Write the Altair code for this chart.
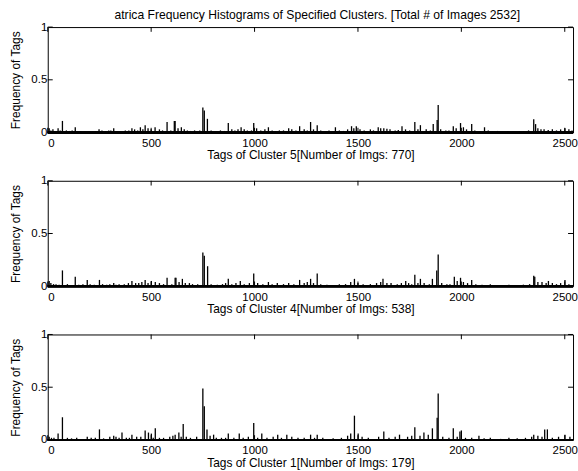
import altair as alt
import pandas as pd

FONT = "Liberation Sans"
XMAX = 2540

# ---- data ----
c5_peak_idx = [7, 50, 71, 133, 248, 319, 407, 448, 471, 519, 577, 612, 616, 646, 750, 757, 772,
               873, 935, 996, 1067, 1165, 1218, 1271, 1303, 1391, 1469, 1492, 1598, 1625, 1713,
               1775, 1802, 1864, 1883, 1888, 1961, 1996, 2050, 2112, 2350, 2359, 2501]
c5_peak_val = [0.04, 0.04, 0.11, 0.05, 0.03, 0.04, 0.04, 0.05, 0.07, 0.05, 0.10, 0.11, 0.11, 0.05, 0.237, 0.21, 0.13,
               0.09, 0.05, 0.09, 0.05, 0.04, 0.06, 0.10, 0.07, 0.05, 0.06, 0.06, 0.05, 0.04, 0.06,
               0.10, 0.07, 0.08, 0.12, 0.26, 0.06, 0.09, 0.08, 0.05, 0.127, 0.08, 0.04]
c5_low_idx = [15, 25, 35, 60, 90, 105, 118, 145, 160, 180, 200, 215, 232, 262, 280, 295, 305, 335, 350, 375,
              392, 420, 435, 460, 485, 500, 540, 555, 595, 630, 660, 675, 690, 710, 735, 790, 810, 835, 855,
              890, 905, 920, 950, 965, 985, 1010, 1030, 1050, 1085, 1100, 1120, 1140, 1180, 1200, 1240, 1255,
              1285, 1320, 1345, 1360, 1375, 1410, 1430, 1450, 1480, 1510, 1530, 1560, 1575, 1610, 1640, 1655,
              1680, 1695, 1730, 1750, 1790, 1830, 1850, 1900, 1925, 1940, 1975, 2010, 2025, 2065, 2090, 2130,
              2150, 2175, 2200, 2225, 2250, 2280, 2300, 2325, 2370, 2385, 2400, 2420, 2440, 2460, 2480, 2520, 2535]
c5_low_val = [0.02, 0.03, 0.015, 0.02, 0.02, 0.015, 0.02, 0.01, 0.015, 0.01, 0.01, 0.01, 0.015, 0.02, 0.015, 0.02, 0.02, 0.015, 0.01, 0.02,
              0.02, 0.03, 0.02, 0.03, 0.04, 0.03, 0.03, 0.02, 0.02, 0.04, 0.03, 0.02, 0.015, 0.02, 0.02, 0.02, 0.01, 0.02, 0.015,
              0.03, 0.02, 0.03, 0.03, 0.02, 0.02, 0.04, 0.02, 0.03, 0.02, 0.015, 0.02, 0.02, 0.03, 0.02, 0.03, 0.02,
              0.03, 0.02, 0.015, 0.02, 0.01, 0.02, 0.015, 0.03, 0.04, 0.03, 0.02, 0.03, 0.02, 0.04, 0.035, 0.03,
              0.02, 0.025, 0.03, 0.02, 0.03, 0.03, 0.02, 0.03, 0.02, 0.02, 0.04, 0.05, 0.03, 0.02, 0.015, 0.02,
              0.01, 0.015, 0.01, 0.015, 0.01, 0.015, 0.01, 0.02, 0.04, 0.03, 0.03, 0.025, 0.03, 0.02, 0.03, 0.03, 0.02]

c4_peak_idx = [7, 71, 133, 191, 250, 319, 407, 471, 501, 577, 616, 620, 651, 750, 757, 773, 873, 931, 996,
               1067, 1218, 1271, 1303, 1483, 1621, 1731, 1775, 1802, 1860, 1881, 1888, 1966, 1996, 2050,
               2350, 2355, 2421, 2501]
c4_peak_val = [0.05, 0.15, 0.09, 0.06, 0.06, 0.03, 0.05, 0.06, 0.05, 0.08, 0.08, 0.08, 0.07, 0.32, 0.29, 0.19, 0.07, 0.05, 0.12,
               0.04, 0.06, 0.07, 0.12, 0.07, 0.07, 0.05, 0.11, 0.07, 0.07, 0.15, 0.30, 0.09, 0.08, 0.06,
               0.10, 0.09, 0.05, 0.06]
c4_low_idx = [15, 28, 40, 55, 95, 110, 150, 170, 205, 225, 265, 285, 300, 330, 345, 370, 390, 425, 440, 455,
              485, 520, 540, 560, 600, 635, 665, 685, 700, 725, 790, 820, 845, 860, 890, 910, 950, 975, 1015,
              1040, 1085, 1110, 1140, 1165, 1190, 1240, 1255, 1285, 1320, 1350, 1410, 1440, 1465, 1500, 1525,
              1560, 1590, 1610, 1640, 1660, 1690, 1710, 1745, 1760, 1790, 1820, 1845, 1905, 1930, 1945, 1980,
              2010, 2030, 2070, 2100, 2140, 2180, 2230, 2260, 2300, 2330, 2370, 2390, 2410, 2440, 2460, 2480, 2520]
c4_low_val = [0.03, 0.02, 0.02, 0.015, 0.02, 0.01, 0.015, 0.02, 0.02, 0.015, 0.02, 0.015, 0.02, 0.015, 0.02, 0.02, 0.03, 0.03, 0.03, 0.04,
              0.03, 0.04, 0.03, 0.02, 0.02, 0.04, 0.03, 0.03, 0.02, 0.02, 0.02, 0.015, 0.02, 0.03, 0.02, 0.03, 0.02, 0.03, 0.03,
              0.02, 0.02, 0.03, 0.02, 0.03, 0.02, 0.03, 0.04, 0.03, 0.02, 0.015, 0.02, 0.02, 0.04, 0.03, 0.02,
              0.02, 0.03, 0.04, 0.03, 0.03, 0.02, 0.03, 0.03, 0.02, 0.03, 0.03, 0.02, 0.03, 0.02, 0.02, 0.05,
              0.04, 0.03, 0.02, 0.015, 0.02, 0.01, 0.015, 0.01, 0.015, 0.02, 0.04, 0.04, 0.03, 0.03, 0.02, 0.03, 0.02]

c1_peak_idx = [7, 50, 71, 191, 250, 319, 359, 407, 471, 487, 501, 520, 616, 634, 655, 750, 757, 770, 802,
               873, 926, 996, 1035, 1112, 1156, 1271, 1303, 1465, 1483, 1501, 1625, 1701, 1775, 1819, 1860,
               1883, 1888, 1961, 1993, 2000, 2085, 2350, 2403, 2416, 2501]
c1_peak_val = [0.03, 0.06, 0.215, 0.03, 0.10, 0.04, 0.07, 0.05, 0.09, 0.07, 0.06, 0.11, 0.05, 0.07, 0.15, 0.487, 0.32, 0.10, 0.05,
               0.06, 0.06, 0.16, 0.06, 0.05, 0.05, 0.05, 0.05, 0.06, 0.23, 0.06, 0.08, 0.05, 0.12, 0.07, 0.11,
               0.21, 0.44, 0.11, 0.08, 0.09, 0.04, 0.05, 0.10, 0.10, 0.05]
c1_low_idx = [18, 30, 95, 115, 140, 165, 210, 230, 270, 300, 330, 345, 380, 395, 430, 450, 510, 540, 560, 590,
              605, 645, 670, 690, 720, 785, 815, 840, 860, 900, 945, 970, 1015, 1060, 1090, 1130, 1180, 1210,
              1240, 1290, 1330, 1380, 1420, 1450, 1520, 1550, 1600, 1650, 1680, 1740, 1760, 1800, 1840, 1910,
              1940, 1980, 2020, 2050, 2110, 2140, 2190, 2230, 2270, 2310, 2340, 2370, 2390, 2440, 2470, 2525]
c1_low_val = [0.02, 0.02, 0.02, 0.015, 0.02, 0.01, 0.02, 0.02, 0.015, 0.03, 0.03, 0.02, 0.02, 0.02, 0.03, 0.03, 0.02, 0.02, 0.02, 0.03,
              0.04, 0.03, 0.03, 0.02, 0.03, 0.04, 0.02, 0.02, 0.02, 0.02, 0.02, 0.03, 0.02, 0.02, 0.03, 0.02, 0.03, 0.02,
              0.02, 0.02, 0.02, 0.015, 0.02, 0.04, 0.03, 0.02, 0.03, 0.02, 0.03, 0.03, 0.04, 0.04, 0.05, 0.03,
              0.02, 0.03, 0.02, 0.02, 0.015, 0.02, 0.01, 0.02, 0.015, 0.02, 0.03, 0.04, 0.03, 0.02, 0.03, 0.03]

x_ticks = [0, 500, 1000, 1500, 2000, 2500]
y_ticks = [0, 0.5, 1]

title_text = "atrica Frequency Histograms of Specified Clusters. [Total # of Images 2532]"
x_titles = ["Tags of Cluster 5[Number of Imgs: 770]",
            "Tags of Cluster 4[Number of Imgs: 538]",
            "Tags of Cluster 1[Number of Imgs: 179]"]
series = [(c5_peak_idx + c5_low_idx, c5_peak_val + c5_low_val),
          (c4_peak_idx + c4_low_idx, c4_peak_val + c4_low_val),
          (c1_peak_idx + c1_low_idx, c1_peak_val + c1_low_val)]

xt_df = pd.DataFrame({"t": x_ticks})
yt_df = pd.DataFrame({"t": y_ticks})

xscale = alt.Scale(domain=[0, XMAX], nice=False, zero=False)
yscale = alt.Scale(domain=[0, 1], nice=False)


def panel(i):
    idx, val = series[i]
    df = pd.DataFrame({"tag": idx, "freq": val})
    bars = alt.Chart(df).mark_rule(color="black", strokeWidth=1.3).encode(
        x=alt.X("tag:Q", scale=xscale,
                axis=alt.Axis(values=x_ticks, title=x_titles[i], format="d",
                              labelPadding=5, titlePadding=1)),
        y=alt.Y("freq:Q", scale=yscale,
                axis=alt.Axis(values=y_ticks, format="~g", title="Frequency of Tags",
                              labelPadding=1, titlePadding=8)),
        y2=alt.datum(0),
    )
    base = alt.Chart(xt_df).mark_rule(color="black", strokeWidth=2).encode(
        x=alt.datum(0), x2=alt.datum(XMAX), y=alt.datum(0))
    top_t = alt.Chart(xt_df).mark_rule(color="black").encode(
        x=alt.X("t:Q"), y=alt.datum(1), y2=alt.datum(0.955))
    bot_t = alt.Chart(xt_df).mark_rule(color="black").encode(
        x=alt.X("t:Q"), y=alt.datum(0), y2=alt.datum(0.045))
    left_t = alt.Chart(yt_df).mark_rule(color="black").encode(
        y=alt.Y("t:Q"), x=alt.datum(0), x2=alt.datum(24))
    right_t = alt.Chart(yt_df).mark_rule(color="black").encode(
        y=alt.Y("t:Q"), x=alt.datum(XMAX), x2=alt.datum(XMAX - 24))
    ch = alt.layer(bars, base, top_t, bot_t, left_t, right_t).properties(width=528, height=106)
    if i == 0:
        ch = ch.properties(title=alt.TitleParams(title_text, anchor="middle", frame="group",
                                                 font=FONT, fontSize=12.2, fontWeight="normal",
                                                 offset=0, dx=7, color="black"))
    return ch


chart = alt.vconcat(panel(0), panel(1), panel(2), spacing=12.5).properties(
    padding={"left": 9, "top": 7, "right": 0, "bottom": 0}, background="white"
).configure_view(stroke="black", strokeWidth=1).configure_axis(
    ticks=False, domain=False, grid=False, labelFont=FONT, titleFont=FONT,
    labelFontSize=11.5, titleFontSize=12, titleFontWeight="normal",
    labelColor="black", titleColor="black"
)

chart.save("out.html", embed_options={"renderer": "svg", "actions": False})
